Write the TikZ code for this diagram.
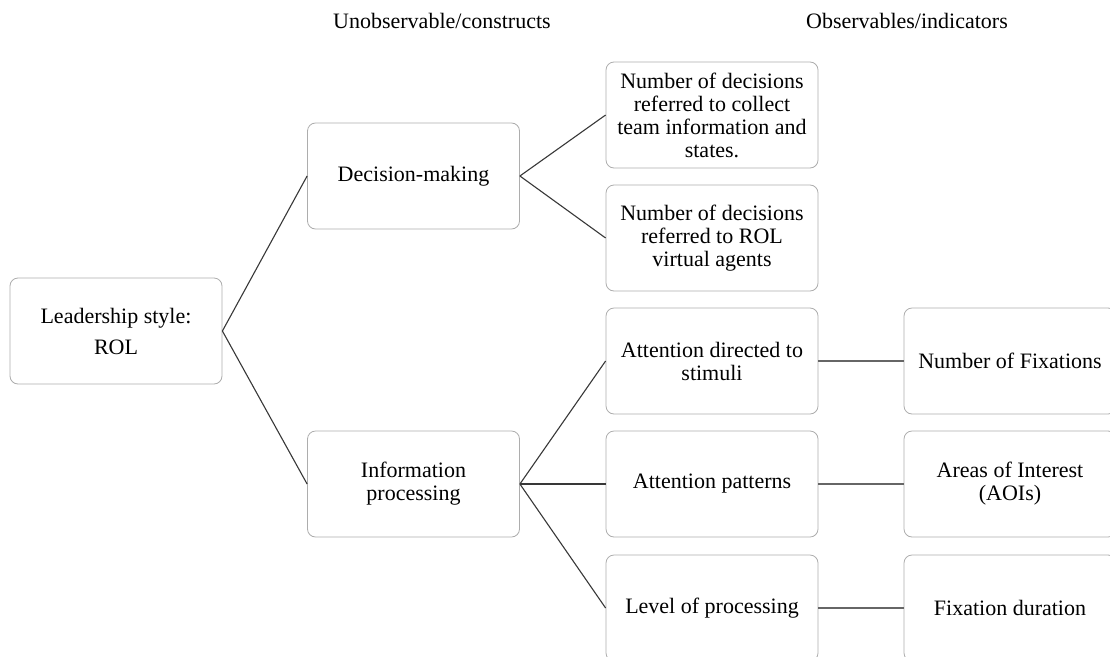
\documentclass[tikz,border=0pt]{standalone}
\usepackage{fontspec}
\setmainfont{Liberation Serif}
\begin{document}
\begin{tikzpicture}[x=1pt,y=-1pt,
  box/.style={draw=black!32, line width=0.8pt, rounded corners=8pt, minimum width=212pt, minimum height=106pt, align=center, inner sep=2pt, font=\fontsize{22}{23}\selectfont, text=black},
  conn/.style={draw=black!78, line width=1.1pt},
  hconn/.style={draw=black!60, line width=1.3pt},
  header/.style={font=\fontsize{22}{23}\selectfont, anchor=base west, inner sep=0pt}]
\useasboundingbox (0,0) rectangle (1110,656);
\clip (0,0) rectangle (1110,656);
\fill[white] (0,0) rectangle (1110,656);
\node[header] (h1) at (333,28) {Unobservable/constructs};
\node[header] (h2) at (806,28) {Observables/indicators};
\node[box] (L) at (116,331) {Leadership style:\\[8pt]ROL};
\node[box] (D) at (413.5,176) {Decision-making};
\node[box] (I) at (413.5,484) {Information\\processing};
\node[box] (N1) at (712,115) {Number of decisions\\referred to collect\\team information and\\states.};
\node[box] (N2) at (712,238) {Number of decisions\\referred to ROL\\virtual agents};
\node[box] (A1) at (712,361) {Attention directed to\\stimuli};
\node[box] (A2) at (712,484) {Attention patterns};
\node[box] (A3) at (712,608) {Level of processing};
\node[box] (R1) at (1010,361) {Number of Fixations};
\node[box] (R2) at (1010,484) {Areas of Interest\\(AOIs)};
\node[box] (R3) at (1010,608) {Fixation duration};
\draw[conn] (L.east) -- (D.west);
\draw[conn] (L.east) -- (I.west);
\draw[conn] (D.east) -- (N1.west);
\draw[conn] (D.east) -- (N2.west);
\draw[conn] (I.east) -- (A1.west);
\draw[conn] (I.east) -- (A2.west);
\draw[conn] (I.east) -- (A3.west);
\draw[hconn] (A1.east) -- (R1.west);
\draw[hconn] (A2.east) -- (R2.west);
\draw[hconn] (A3.east) -- (R3.west);
\end{tikzpicture}
\end{document}
